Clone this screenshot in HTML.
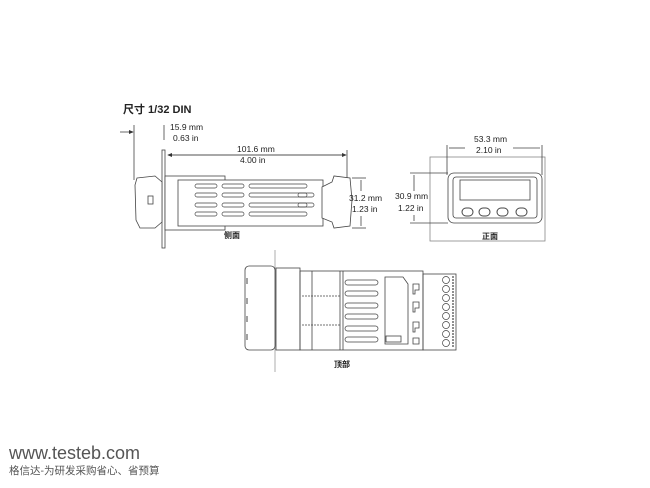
<!DOCTYPE html>
<html><head><meta charset="utf-8"><style>
html,body{margin:0;padding:0;background:#fff;width:650px;height:488px;overflow:hidden}
svg{display:block}
text{font-family:"Liberation Sans","Noto Sans CJK SC",sans-serif;fill:#222}
</style></head><body>
<svg width="650" height="488" viewBox="0 0 650 488" xmlns="http://www.w3.org/2000/svg">
<defs><marker id="a" markerWidth="6" markerHeight="6" refX="5" refY="3" orient="auto"><path d="M0,0.5 L6,3 L0,5.5z" fill="#333"/></marker></defs>
<g stroke="#444" fill="none" stroke-width="0.8">
<!-- SIDE VIEW -->
<line x1="134" y1="125" x2="134" y2="180"/>
<line x1="120" y1="132" x2="133" y2="132" marker-end="url(#a)"/>
<line x1="164" y1="125" x2="164" y2="140"/>
<line x1="168" y1="155" x2="346" y2="155" marker-end="url(#a)"/>
<line x1="346" y1="155" x2="168" y2="155" marker-end="url(#a)"/>
<line x1="347" y1="150" x2="347" y2="180"/>
<rect x="162" y="150" width="3" height="98" fill="#fff"/>
<path d="M137,178 L155,176 L162,182 L162,222 L155,228 L140,228 L136,220 L135,185z" fill="#fff"/>
<rect x="148" y="196" width="5" height="8"/>
<rect x="165" y="176" width="60" height="54" fill="#fff"/>
<rect x="178" y="180" width="145" height="46" fill="#fff"/>
<g stroke-width="0.7">
<rect x="195" y="184" width="22" height="4" rx="2"/><rect x="222" y="184" width="22" height="4" rx="2"/><rect x="249" y="184" width="58" height="4" rx="2"/>
<rect x="195" y="193" width="22" height="4" rx="2"/><rect x="222" y="193" width="22" height="4" rx="2"/><rect x="249" y="193" width="58" height="4" rx="2"/><rect x="298" y="193" width="16" height="4" rx="2"/>
<rect x="195" y="203" width="22" height="4" rx="2"/><rect x="222" y="203" width="22" height="4" rx="2"/><rect x="249" y="203" width="58" height="4" rx="2"/><rect x="298" y="203" width="16" height="4" rx="2"/>
<rect x="195" y="212" width="22" height="4" rx="2"/><rect x="222" y="212" width="22" height="4" rx="2"/><rect x="249" y="212" width="58" height="4" rx="2"/>
</g>
<path d="M322,187 L332,182 L334,176 L350,178 L352,200 L350,226 L334,228 L332,222 L322,218z" fill="#fff"/>
<line x1="352" y1="178" x2="366" y2="178"/><line x1="352" y1="228" x2="366" y2="228"/>
<line x1="361" y1="180" x2="361" y2="191"/><line x1="361" y1="216" x2="361" y2="226"/>
<!-- FRONT VIEW -->
<rect x="430" y="157" width="115" height="84" stroke="#888"/>
<line x1="447" y1="145" x2="447" y2="175"/><line x1="542" y1="145" x2="542" y2="175"/>
<line x1="449" y1="148" x2="465" y2="148"/><line x1="513" y1="148" x2="540" y2="148"/>
<rect x="448" y="173" width="94" height="50" rx="6" fill="#fff"/>
<rect x="453" y="177" width="84" height="41" rx="3"/>
<rect x="460" y="180" width="70" height="20"/>
<line x1="410" y1="173" x2="448" y2="173"/><line x1="410" y1="223" x2="448" y2="223"/>
<line x1="414" y1="175" x2="414" y2="191"/><line x1="414" y1="215" x2="414" y2="221"/>
<g stroke-width="1"><rect x="462" y="208" width="11" height="8" rx="4"/><rect x="479" y="208" width="11" height="8" rx="4"/><rect x="497" y="208" width="11" height="8" rx="4"/><rect x="516" y="208" width="11" height="8" rx="4"/></g>
<!-- TOP VIEW -->
<line x1="275" y1="250" x2="275" y2="372" stroke="#999"/>
<rect x="245" y="266" width="30" height="84" rx="4" fill="#fff"/>
<rect x="276" y="268" width="24" height="82"/>
<rect x="300" y="271" width="123" height="79"/>
<line x1="312" y1="271" x2="312" y2="350"/><line x1="340" y1="271" x2="340" y2="350"/><line x1="343" y1="271" x2="343" y2="350"/>
<line x1="302" y1="296" x2="340" y2="296" stroke-dasharray="2,1"/><line x1="302" y1="325" x2="340" y2="325" stroke-dasharray="2,1"/>
<g stroke-width="0.7"><rect x="345" y="280" width="33" height="5" rx="2.5"/><rect x="345" y="291" width="33" height="5" rx="2.5"/><rect x="345" y="303" width="33" height="5" rx="2.5"/><rect x="345" y="314" width="33" height="5" rx="2.5"/><rect x="345" y="326" width="33" height="5" rx="2.5"/><rect x="345" y="337" width="33" height="5" rx="2.5"/></g>
<path d="M385,277 L403,277 L408,284 L408,344 L385,344z"/>
<rect x="386" y="336" width="15" height="6"/>
<path d="M413,284 h6 v6 h-4 v4 h-2z M413,302 h6 v6 h-4 v4 h-2z M413,322 h6 v6 h-4 v4 h-2z M413,338 h6 v6 h-6z"/>
<rect x="423" y="274" width="33" height="76"/>
<g stroke-width="0.7"><circle cx="446" cy="280" r="3.5"/><circle cx="446" cy="289" r="3.5"/><circle cx="446" cy="298" r="3.5"/><circle cx="446" cy="307" r="3.5"/><circle cx="446" cy="316" r="3.5"/><circle cx="446" cy="325" r="3.5"/><circle cx="446" cy="334" r="3.5"/><circle cx="446" cy="343" r="3.5"/></g>
<line x1="453" y1="276" x2="453" y2="348" stroke-dasharray="2,1" stroke-width="1.2"/>
<g stroke-width="1"><line x1="247" y1="278" x2="247" y2="284"/><line x1="247" y1="298" x2="247" y2="304"/><line x1="247" y1="316" x2="247" y2="322"/><line x1="247" y1="334" x2="247" y2="340"/></g>
</g>
<text x="123" y="113" font-size="11" font-weight="bold">尺寸 1/32 DIN</text>
<g font-size="8.5">
<text x="170" y="130">15.9 mm</text><text x="173" y="141">0.63 in</text>
<text x="237" y="152">101.6 mm</text><text x="240" y="163">4.00 in</text>
<text x="349" y="201">31.2 mm</text><text x="352" y="212">1.23 in</text>
<text x="474" y="142">53.3 mm</text><text x="476" y="153">2.10 in</text>
<text x="395" y="199">30.9 mm</text><text x="398" y="211">1.22 in</text>
</g>
<g font-size="8" font-weight="bold"><text x="224" y="238">侧面</text><text x="482" y="239">正面</text><text x="334" y="367">顶部</text></g>
<text x="9" y="459" font-size="18" style="fill:#555">www.testeb.com</text>
<text x="9" y="474" font-size="10.5" style="fill:#555">格信达-为研发采购省心、省预算</text>
</svg>
</body></html>
